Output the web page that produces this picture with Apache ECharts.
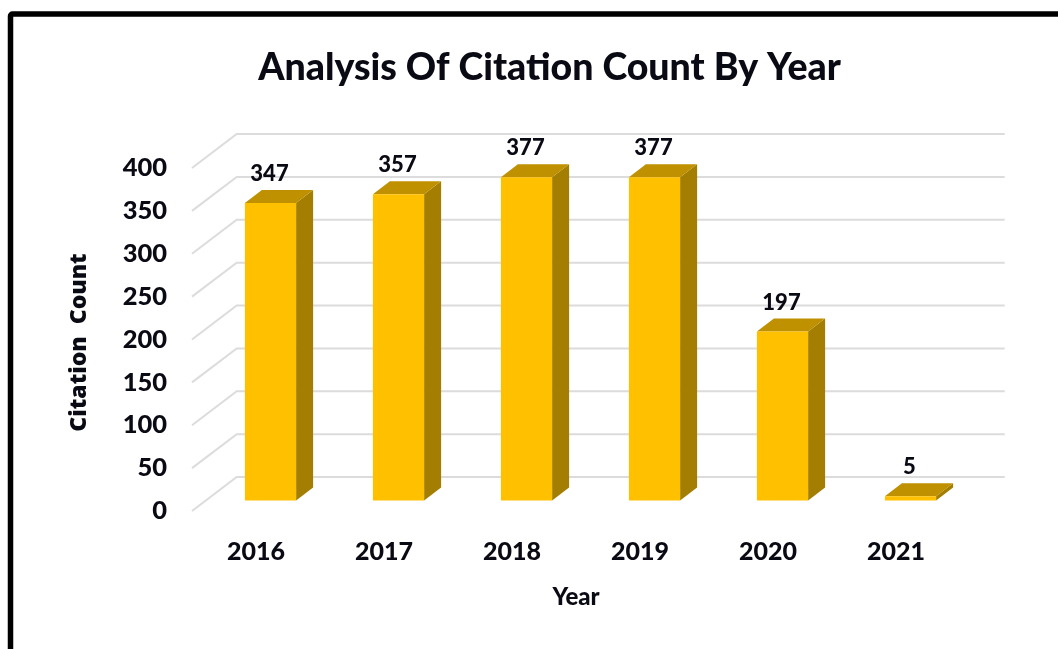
<!DOCTYPE html>
<html>
<head>
<meta charset="utf-8">
<style>html,body{margin:0;padding:0;background:#fff}#c{width:1058px;height:649px}</style>
<script src="https://cdn.jsdelivr.net/npm/echarts@6/dist/echarts.min.js"></script>
</head>
<body>
<div id="c"></div>
<script>
const chartTitle = 'Analysis Of Citation Count By Year';
const xName = 'Year';
const yName = 'Citation  Count';
const years = ['2016','2017','2018','2019','2020','2021'];
const citations = [347,357,377,377,197,5];
const yTicks = [0,50,100,150,200,250,300,350,400];

const font = 'Lato, "Open Sans", sans-serif';
const DEPTH_X = 44.7, DEPTH_Y = -34;
const BAR_DX = 14.5, BAR_DY = -10.5;
const SIDE_DX = 17, SIDE_DY = -13;
const BAR_FRACTION = 0.4;
const INK = '#0a0a14';

const chart = echarts.init(document.getElementById('c'), null, {renderer:'canvas'});
chart.setOption({
  animation:false,
  backgroundColor:'#fff',
  title:{
    text:chartTitle,left:544.5,top:44,textAlign:'center',
    textStyle:{fontFamily:font,fontWeight:900,fontSize:37.5,color:INK}
  },
  grid:{left:192,right:98,top:168,bottom:138},
  graphic:[{type:'rect',z:100,silent:true,
    shape:{x:10.5,y:14,width:1120,height:720,r:2},
    style:{fill:'none',stroke:'#000',lineWidth:5.5}}],
  xAxis:{
    type:'category',data:years,name:xName,nameLocation:'middle',nameGap:74,
    nameTextStyle:{fontFamily:font,fontWeight:900,fontSize:24,color:INK},
    axisLine:{show:false},axisTick:{show:false},splitLine:{show:false},
    axisLabel:{margin:28,fontFamily:font,fontWeight:900,fontSize:25,color:INK}
  },
  yAxis:{
    type:'value',min:0,max:400,interval:50,name:yName,nameLocation:'middle',nameGap:101,nameRotate:90,
    nameTextStyle:{fontFamily:'"Open Sans", Lato, sans-serif',fontWeight:800,fontSize:23,color:INK,padding:[0,6,0,0]},
    axisLine:{show:false},axisTick:{show:false},splitLine:{show:false},
    axisLabel:{margin:25,padding:[6,0,0,0],fontFamily:font,fontWeight:900,fontSize:25.5,color:INK}
  },
  series:[
    {
      type:'custom',silent:true,z:1,
      coordinateSystem:'cartesian2d',
      data:yTicks.map(v=>[0,v]),
      encode:{x:0,y:1},
      renderItem(params,api){
        const y = api.coord([0,api.value(1)])[1];
        const x0 = params.coordSys.x, x1 = x0+params.coordSys.width;
        return {type:'polyline',
          shape:{points:[[x0,y],[x0+DEPTH_X,y+DEPTH_Y],[x1+DEPTH_X,y+DEPTH_Y]]},
          style:{stroke:'#dcdcdc',lineWidth:2,fill:null}};
      }
    },
    {
      type:'custom',silent:true,z:2,
      coordinateSystem:'cartesian2d',
      data:citations.map((v,i)=>[i,v]),
      encode:{x:0,y:1},
      renderItem(params,api){
        const i = api.value(0), v = api.value(1);
        const top = api.coord([i,v]), base = api.coord([i,0]);
        const w = api.size([1,0])[0]*BAR_FRACTION;
        const l = top[0]-w/2+BAR_DX, r = top[0]+w/2+BAR_DX;
        const t = top[1]+BAR_DY, b = base[1]+BAR_DY;
        return {type:'group',children:[
          {type:'polygon',shape:{points:[[r,t],[r+SIDE_DX,t+SIDE_DY],[r+SIDE_DX,b+SIDE_DY],[r,b]]},
            style:{fill:'#a37e00'}},
          {type:'polygon',shape:{points:[[l,t],[l+SIDE_DX,t+SIDE_DY],[r+SIDE_DX,t+SIDE_DY],[r,t]]},
            style:{fill:'#bf9000'}},
          {type:'rect',shape:{x:l,y:t,width:r-l,height:b-t},style:{fill:'#ffc000'}},
          {type:'text',style:{text:String(v),x:(l+r)/2-1,y:t+SIDE_DY-16,align:'center',verticalAlign:'middle',
            font:'900 22px '+font,fill:INK}}
        ]};
      }
    }
  ]
});
</script>
</body>
</html>
